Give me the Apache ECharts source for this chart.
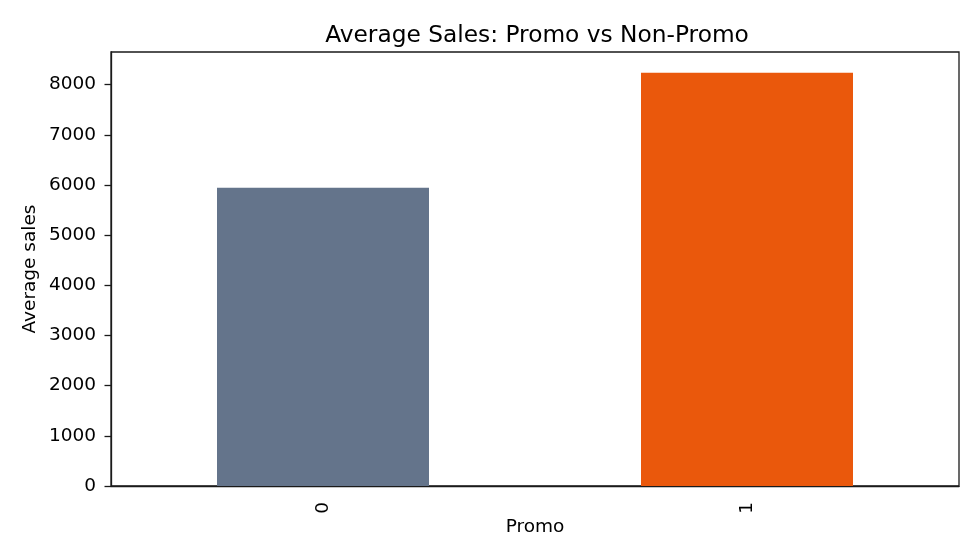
<!DOCTYPE html>
<html>
<head>
<meta charset="utf-8">
<script src="https://cdn.jsdelivr.net/npm/echarts@6/dist/echarts.min.js"></script>
<style>html,body{margin:0;padding:0;background:#fff}#c{width:980px;height:560px}</style>
</head>
<body>
<div id="c"></div>
<script>
const categories = ['0', '1'];
const avgSales = [5945, 8239];
const barColors = ['#64748b', '#ea580c'];
const yTicks = [0, 1000, 2000, 3000, 4000, 5000, 6000, 7000, 8000];

const chart = echarts.init(document.getElementById('c'));
const font = 'DejaVu Sans';
chart.setOption({
  animation: false,
  title: {
    text: 'Average Sales: Promo vs Non-Promo',
    left: 532, top: 19, textAlign: 'center',
    textStyle: { fontFamily: font, fontSize: 23.3, fontWeight: 'normal', color: '#000' }
  },
  grid: { left: 111, right: 21, top: 52, bottom: 74, show: true, borderColor: '#1a1a1a', borderWidth: 1.3, backgroundColor: 'transparent' },
  xAxis: {
    type: 'category', data: categories,
    name: 'Promo', nameLocation: 'middle', nameGap: 32, nameMoveOverlap: false,
    nameTextStyle: { fontFamily: font, fontSize: 18.5, color: '#000' },
    axisLine: { lineStyle: { color: '#1a1a1a', width: 1.3 } },
    axisTick: { alignWithLabel: true, length: 6.5, lineStyle: { color: '#1a1a1a', width: 1.3 } },
    axisLabel: { rotate: 90, fontFamily: font, fontSize: 18.5, color: '#000', margin: 16 }
  },
  yAxis: {
    type: 'value', min: 0, max: 8651, interval: 1000,
    name: 'Average sales', nameLocation: 'middle', nameGap: 71, nameMoveOverlap: false,
    nameTextStyle: { fontFamily: font, fontSize: 18.5, color: '#000' },
    axisLine: { show: true, lineStyle: { color: '#1a1a1a', width: 1.3 } },
    axisTick: { show: true, length: 6.5, lineStyle: { color: '#1a1a1a', width: 1.3 } },
    splitLine: { show: false },
    axisLabel: { showMaxLabel: false, fontFamily: font, fontSize: 18.5, color: '#000', margin: 15,
      formatter: v => yTicks.includes(v) ? String(v) : '' }
  },
  series: [{
    type: 'bar', barWidth: '50%',
    data: avgSales.map((v, i) => ({ value: v, itemStyle: { color: barColors[i] } }))
  }]
});
</script>
</body>
</html>
